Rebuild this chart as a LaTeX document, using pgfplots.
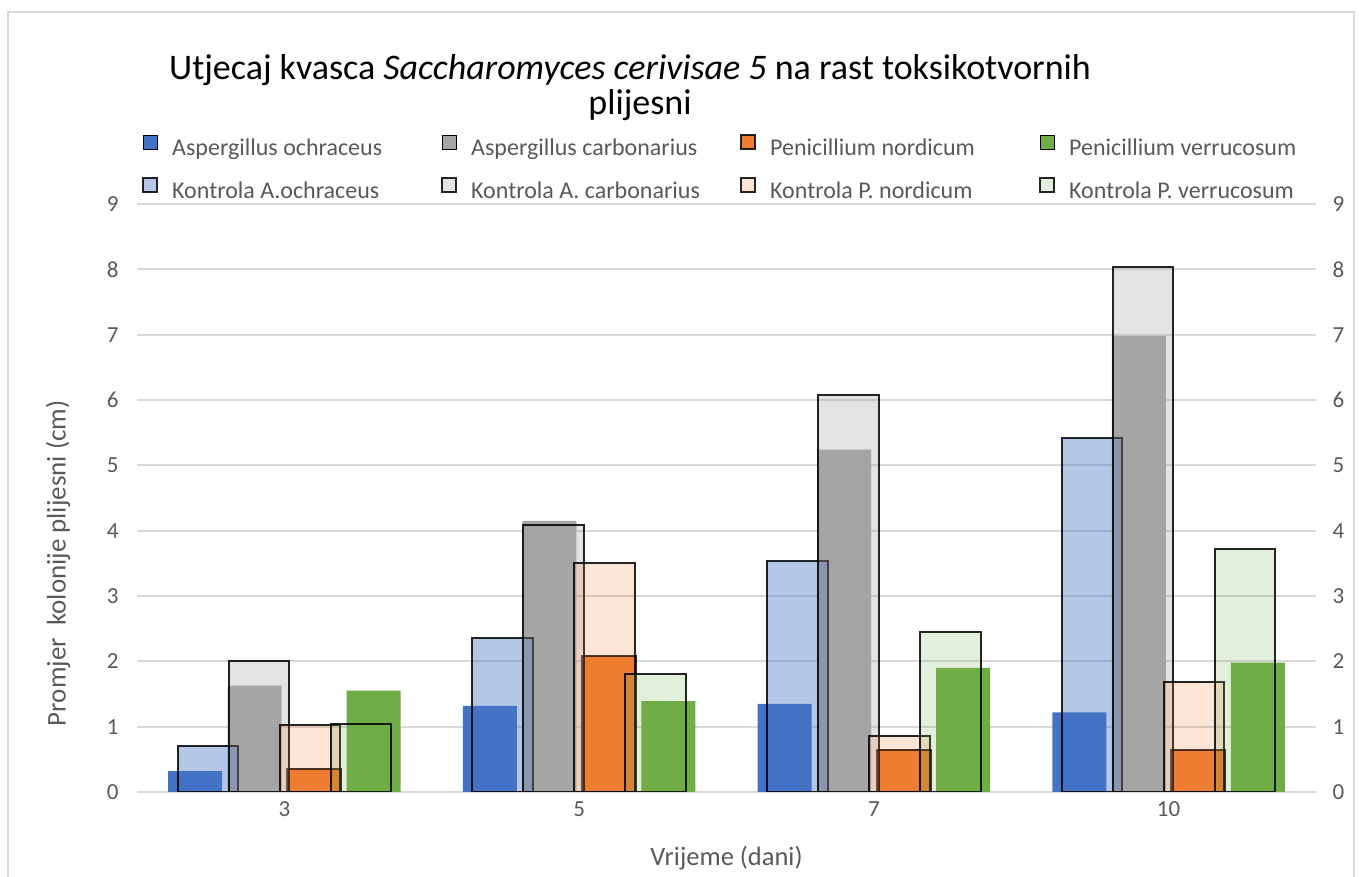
\documentclass[border=0pt]{standalone}
\usepackage{fontspec}
\setmainfont{Carlito}
\usepackage{pgfplots}
\pgfplotsset{compat=1.18}
\definecolor{cBlue}{HTML}{4472C4}
\definecolor{cGray}{HTML}{A5A5A5}
\definecolor{cOrange}{HTML}{ED7D31}
\definecolor{cGreen}{HTML}{70AD47}
\definecolor{txt}{HTML}{595959}
\definecolor{gridc}{HTML}{D9D9D9}
\begin{document}
\begin{tikzpicture}[x=1pt,y=1pt]
\useasboundingbox (0,0) rectangle (1361,877);
\draw[gridc, line width=2pt] (8,0) -- (8,865) -- (1354,865) -- (1354,0);
\node[anchor=base, text=black, font=\fontsize{36}{42}\selectfont] at (630,797) {Utjecaj kvasca \textit{Saccharomyces cerivisae 5} na rast toksikotvornih};
\node[anchor=base, text=black, font=\fontsize{36}{42}\selectfont] at (640,762) {plijesni};
\begin{axis}[
  at={(137pt,85pt)}, anchor=south west, scale only axis,
  width=1179pt, height=588pt,
  xmin=-0.5, xmax=3.5, ymin=0, ymax=9,
  ybar,
  legend image code/.code={\draw[#1] (0pt,-1pt) rectangle (14pt,13pt);},
  xtick={0,1,2,3}, xticklabels={3,5,7,10},
  ytick={0,1,...,9},
  major tick length=0pt,
  ymajorgrids, grid style={gridc, line width=1.8pt},
  axis line style={draw=none},
  tick label style={font=\fontsize{23}{28}\selectfont, text=txt},
  yticklabel style={xshift=-15pt},
  xticklabel style={yshift=-6pt},
  /pgf/number format/assume math mode=true,
  xlabel={Vrijeme (dani)},
  ylabel={Promjer~ kolonije plijesni (cm)},
  every axis x label/.style={at={(axis description cs:0.5,0)}, anchor=center, yshift=-66pt,
    font=\fontsize{26.5}{30}\selectfont, text=txt},
  every axis y label/.style={at={(axis description cs:-0.067,0.389)}, anchor=center, rotate=90,
    font=\fontsize{27}{30}\selectfont, text=txt},
  legend columns=4,
  legend cell align=left,
  legend style={at={(0.00424,1.119)}, anchor=north west, draw=none, fill=none, inner sep=0pt,
    font=\fontsize{24}{28}\selectfont, text=txt, row sep=18pt, nodes={inner sep=2pt},
    /tikz/every odd column/.append style={column sep=12pt},
    /tikz/every even column/.append style={column sep=17pt}},
]
\addplot[fill=cBlue, draw=none, bar width=54pt, bar shift=-89.25pt] coordinates {(0,0.32) (1,1.32) (2,1.35) (3,1.22)};
\addlegendentry{\makebox[250pt][l]{Aspergillus ochraceus}}
\addplot[fill=cGray, draw=none, bar width=54pt, bar shift=-29.75pt] coordinates {(0,1.63) (1,4.15) (2,5.24) (3,6.98)};
\addlegendentry{\makebox[250pt][l]{Aspergillus carbonarius}}
\addplot[fill=cOrange, draw=black, draw opacity=0.85, line width=2pt, bar width=54pt, bar shift=29.75pt] coordinates {(0,0.35) (1,2.08) (2,0.65) (3,0.64)};
\addlegendentry{\makebox[250pt][l]{Penicillium nordicum}}
\addplot[fill=cGreen, draw=none, bar width=54pt, bar shift=89.25pt] coordinates {(0,1.55) (1,1.39) (2,1.90) (3,1.98)};
\addlegendentry{\makebox[250pt][l]{Penicillium verrucosum}}
\addplot[fill=cBlue, fill opacity=0.4, draw=black, draw opacity=0.85, line width=2pt, bar width=60.5pt, bar shift=-76.5pt] coordinates {(0,0.71) (1,2.36) (2,3.53) (3,5.42)};
\addlegendentry{\makebox[250pt][l]{Kontrola A.ochraceus}}
\addplot[fill=cGray, fill opacity=0.31, draw=black, draw opacity=0.85, line width=2pt, bar width=60.5pt, bar shift=-25.5pt] coordinates {(0,2.01) (1,4.08) (2,6.07) (3,8.04)};
\addlegendentry{\makebox[250pt][l]{Kontrola A. carbonarius}}
\addplot[fill=cOrange, fill opacity=0.2, draw=black, draw opacity=0.85, line width=2pt, bar width=60.5pt, bar shift=25.5pt] coordinates {(0,1.02) (1,3.50) (2,0.85) (3,1.69)};
\addlegendentry{\makebox[250pt][l]{Kontrola P. nordicum}}
\addplot[fill=cGreen, fill opacity=0.2, draw=black, draw opacity=0.85, line width=2pt, bar width=60.5pt, bar shift=76.5pt] coordinates {(0,1.04) (1,1.80) (2,2.45) (3,3.72)};
\addlegendentry{\makebox[250pt][l]{Kontrola P. verrucosum}}
\end{axis}
\begin{axis}[
  at={(137pt,85pt)}, anchor=south west, scale only axis,
  width=1179pt, height=588pt,
  xmin=-0.5, xmax=3.5, ymin=0, ymax=9,
  axis y line*=right, axis x line=none,
  axis line style={draw=none},
  ytick={0,1,...,9},
  major tick length=0pt,
  tick label style={font=\fontsize{23}{28}\selectfont, text=txt},
  yticklabel style={xshift=13pt},
  /pgf/number format/assume math mode=true,
]
\addplot[draw=none, forget plot] coordinates {(0,0) (3,9)};
\end{axis}
\end{tikzpicture}
\end{document}
